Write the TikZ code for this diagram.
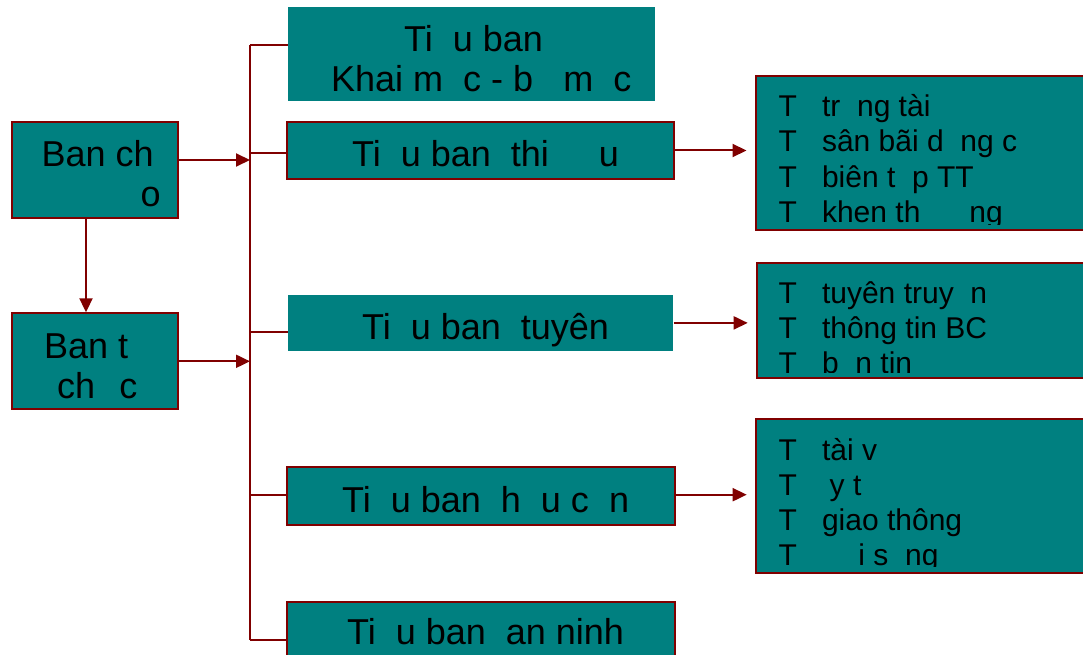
\documentclass[tikz,border=0pt]{standalone}
\usepackage{fontspec}
\setmainfont{Liberation Sans}
\usetikzlibrary{arrows.meta}
\definecolor{boxfill}{RGB}{0,128,128}
\definecolor{lnred}{RGB}{128,0,0}
\newcommand\ph[1]{\phantom{#1}}
\begin{document}
\begin{tikzpicture}[x=1pt,y=-1pt,
  bx/.style={rectangle, fill=boxfill, draw=lnred, line width=2pt, inner sep=0pt},
  bxn/.style={rectangle, fill=boxfill, draw=none, inner sep=0pt},
  ln/.style={draw=lnred, line width=2pt},
  arr/.style={ln, -{Triangle[length=14pt,width=13pt]}},
  mt/.style={anchor=base west, inner sep=0pt, font=\fontsize{36}{36}\selectfont},
  rt/.style={anchor=base west, inner sep=0pt, font=\fontsize{30}{30}\selectfont}]
\clip (0,0) rectangle (1083,655);
\fill[white] (0,0) rectangle (1083,655);
% boxes
\node[bx, minimum width=166pt, minimum height=96pt] (bcd) at (94.7,169.7) {};
\node[bx, minimum width=166pt, minimum height=96pt] (btc) at (94.7,361.3) {};
\node[bxn, minimum width=366.7pt, minimum height=93.7pt] (k1) at (471.7,54.2) {};
\node[bx, minimum width=386.7pt, minimum height=57.6pt] (k2) at (480.7,150.5) {};
\node[bxn, minimum width=385pt, minimum height=55.7pt] (k3) at (480.8,322.9) {};
\node[bx, minimum width=387.7pt, minimum height=57.7pt] (k4) at (481.2,496.2) {};
\node[bx, minimum width=387.7pt, minimum height=77pt] (k5) at (481.2,640.2) {};
\node[bx, minimum width=334.5pt, minimum height=154pt] (r1) at (922.75,153) {};
\node[bx, minimum width=333.3pt, minimum height=115pt] (r2) at (923.35,320.5) {};
\node[bx, minimum width=334.3pt, minimum height=154pt] (r3) at (922.85,496) {};
% bus
\coordinate (j1) at (250,45);
\coordinate (j2) at (250,153);
\coordinate (j3) at (250,332);
\coordinate (j4) at (250,495);
\coordinate (j5) at (250,640);
\draw[ln] (j1) -- (j5);
\draw[ln] (j1) -- (j1 -| k1.west);
\draw[ln] (j2) -- (j2 -| k2.west);
\draw[ln] (j3) -- (j3 -| k3.west);
\draw[ln] (j4) -- (j4 -| k4.west);
\draw[ln] (j5) -- (j5 -| k5.west);
% arrows
\draw[arr] ([xshift=-8.7pt]bcd.south) -- ([xshift=-8.7pt]btc.north);
\draw[arr] ([yshift=9.7pt]bcd.east) -- ([yshift=9.7pt]bcd.east -| j1);
\draw[arr] (btc.east) -- (btc.east -| j1);
\draw[arr, shorten >=8pt] (k2.east) -- (k2.east -| r1.west);
\draw[arr, shorten >=8pt] (k3.east) -- (k3.east -| r2.west);
\draw[arr, shorten >=8pt] ([yshift=1.5pt]k4.east) -- ([yshift=1.5pt]k4.east -| r3.west);
% left texts
\node[mt] (t1a) at (41.5,167) {Ban ch\ph{ỉ}};
\node[mt] (t1b) at (140.3,206) {o};
\node[mt] (t2a) at (44,358) {Ban t\ph{ổ}};
\node[mt] (t2b) at (57,398) {ch\ph{ứ}c};
% middle texts
\node[mt] (m1a) at (404,52) {Ti\ph{ể}u ban};
\node[mt] (m1b) at (331,92) {Khai m\ph{ạ}c - b\ph{ế} m\ph{ạ}c};
\node[mt] (m2) at (352,167) {Ti\ph{ể}u ban\hspace{20pt}thi \ph{đấ}u};
\node[mt] (m3) at (362,339) {Ti\ph{ể}u ban\hspace{20pt}tuyên};
\node[mt] (m4) at (342,512) {Ti\ph{ể}u ban\hspace{20pt}h\ph{ậ}u c\ph{ầ}n};
\node[mt] (m5) at (347,644) {Ti\ph{ể}u ban\hspace{20pt}an ninh};
% right texts
\begin{scope}
\clip (r1.north west) rectangle ([yshift=7pt]r1.south east);
\node[rt] (a1) at (778.5,117) {T\ph{ổ} tr\ph{ọ}ng tài};
\node[rt] (a2) at (778.5,152) {T\ph{ổ} sân bãi d\ph{ụ}ng c};
\node[rt] (a3) at (778.5,187) {T\ph{ổ} biên t\ph{ậ}p TT};
\node[rt] (a4) at (778.5,222) {T\ph{ổ} khen th\hspace{49pt}ng};
\end{scope}
\begin{scope}
\clip (r2.north west) rectangle ([yshift=7pt]r2.south east);
\node[rt] (b1) at (778.5,303) {T\ph{ổ} tuyên truy\ph{ề}n};
\node[rt] (b2) at (778.5,338) {T\ph{ổ} thông tin BC};
\node[rt] (b3) at (778.5,373) {T\ph{ổ} b\ph{ả}n tin};
\end{scope}
\begin{scope}
\clip (r3.north west) rectangle ([yshift=8pt]r3.south east);
\node[rt] (c1) at (778.5,460) {T\ph{ổ} tài v\ph{ụ}};
\node[rt] (c2) at (778.5,495) {T\ph{ổ}\hspace{16pt}y t\ph{ế}};
\node[rt] (c3) at (778.5,530) {T\ph{ổ} giao thông};
\node[rt] (c4) at (778.5,565) {T\ph{ổ} \ph{đờ}i s\ph{ố}ng};
\end{scope}
\end{tikzpicture}
\end{document}
